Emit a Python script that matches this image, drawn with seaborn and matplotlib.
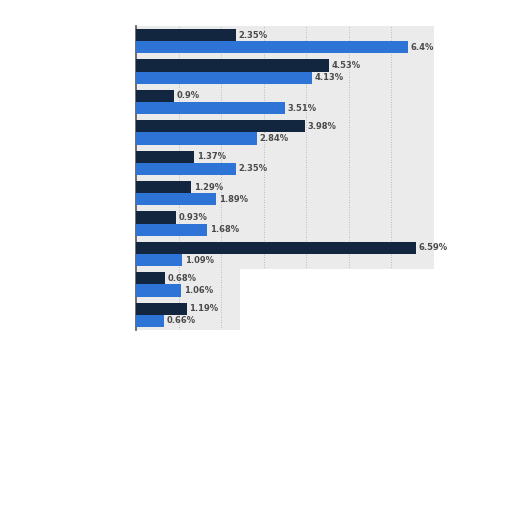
import pandas as pd
import seaborn as sns
import matplotlib.pyplot as plt
from matplotlib.patches import Polygon

# data (category names are not visible in the reference)
categories = ["1", "2", "3", "4", "5", "6", "7", "8", "9", "10"]
series_a = [2.35, 4.53, 0.9, 3.98, 1.37, 1.29, 0.93, 6.59, 0.68, 1.19]
series_b = [6.4, 4.13, 3.51, 2.84, 2.35, 1.89, 1.68, 1.09, 1.06, 0.66]
series_names = ["A", "B"]

df = pd.DataFrame({
    "cat": categories * 2,
    "value": series_a + series_b,
    "series": [series_names[0]] * len(categories) + [series_names[1]] * len(categories),
})

sns.set_style("white")
plt.rcParams["font.family"] = ["DejaVu Sans"]

fig = plt.figure(figsize=(5.12, 5.12), dpi=100)
ax = fig.add_axes([136 / 512, 1 - 330 / 512, 297.5 / 512, 304 / 512])

# smudged grey backdrop from the reference
shade = Polygon([(0, -0.5), (7, -0.5), (7, 7.5), (2.45, 7.5), (2.45, 9.5), (0, 9.5)],
                closed=True, facecolor="#dedede", edgecolor="none", alpha=0.6, zorder=0)
ax.add_patch(shade)

sns.barplot(data=df, x="value", y="cat", hue="series", orient="h",
            palette=["#13263f", "#2e74d6"], width=0.8, ax=ax,
            legend=False, saturation=1, zorder=3, linewidth=0)

for cont in ax.containers:
    ax.bar_label(cont, labels=[f"{v:g}%" for v in cont.datavalues],
                 padding=2, fontsize=6, color="#4a4a4a", fontweight="bold")

ax.set_xlim(0, 7)
ax.set_ylim(9.5, -0.5)
ax.set_xticks(range(1, 7))
ax.xaxis.grid(True, linestyle=(0, (1, 2)), color="#aaaaaa", linewidth=0.6, zorder=1)
for gl in ax.get_xgridlines():
    gl.set_clip_path(shade)
ax.set_xticklabels([])
ax.set_yticklabels([])
ax.tick_params(left=False, bottom=False)
ax.set_xlabel("")
ax.set_ylabel("")
for s in ["top", "right", "bottom"]:
    ax.spines[s].set_visible(False)
ax.spines["left"].set_color("#555555")
ax.spines["left"].set_linewidth(1.2)
ax.set_facecolor("none")

fig.savefig("out.png", dpi=100)
